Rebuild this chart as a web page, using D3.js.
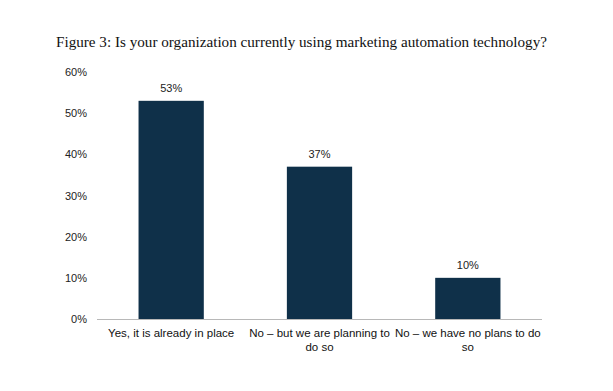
<!DOCTYPE html>
<html><head><meta charset="utf-8">
<script src="https://cdn.jsdelivr.net/npm/d3@7"></script>
<style>body{margin:0;background:#fff}</style>
</head><body>
<svg id="c" width="613" height="391"></svg>
<script>
const title = "Figure 3: Is your organization currently using marketing automation technology?";
const categories = ["Yes, it is already in place", "No – but we are planning to do so", "No – we have no plans to do so"];
const categoryLines = [["Yes, it is already in place"], ["No – but we are planning to", "do so"], ["No – we have no plans to do", "so"]];
const values = [53, 37, 10];
const tickValues = [0, 10, 20, 30, 40, 50, 60];

(function () {
const svg = d3.select("#c");
const mLeft = 97, mRight = 542, mTop = 72, mBottom = 319;
const x = d3.scaleBand().domain(categories).range([mLeft, mRight]).paddingInner(0.56).paddingOuter(0.28);
const y = d3.scaleLinear().domain([0, 60]).range([mBottom, mTop]);

svg.append("text").attr("x", 56).attr("y", 47)
  .attr("font-family", "Liberation Serif, serif").attr("font-size", 15.5).attr("fill", "#111")
  .attr("textLength", 491).attr("lengthAdjust", "spacingAndGlyphs")
  .text(title);

const yAxis = svg.append("g").attr("transform", `translate(${mLeft},0)`)
  .call(d3.axisLeft(y).tickValues(tickValues).tickFormat(d => d + "%").tickSize(0).tickPadding(10));
yAxis.select(".domain").remove();
yAxis.selectAll("text").attr("font-family", "Liberation Sans, Arial, sans-serif").attr("font-size", 11).attr("fill", "#222");

svg.selectAll("rect.bar").data(values).join("rect").attr("class", "bar")
  .attr("x", (d, i) => x(categories[i])).attr("width", x.bandwidth())
  .attr("y", d => y(d)).attr("height", d => mBottom - y(d)).attr("fill", "#0f3049");

svg.selectAll("text.val").data(values).join("text").attr("class", "val")
  .attr("x", (d, i) => x(categories[i]) + x.bandwidth() / 2).attr("y", d => y(d) - 9)
  .attr("text-anchor", "middle").attr("font-family", "Liberation Sans, Arial, sans-serif")
  .attr("font-size", 11).attr("fill", "#222").text(d => d + "%");

svg.append("line").attr("x1", mLeft).attr("x2", mRight).attr("y1", mBottom + 0.5).attr("y2", mBottom + 0.5)
  .attr("stroke", "#b8b8b8").attr("stroke-width", 1);

categories.forEach((c, i) => {
  const t = svg.append("text").attr("text-anchor", "middle")
    .attr("font-family", "Liberation Sans, Arial, sans-serif").attr("font-size", 11.5).attr("fill", "#111");
  categoryLines[i].forEach((ln, j) => {
    t.append("tspan").attr("x", x(c) + x.bandwidth() / 2).attr("y", 337 + j * 14).text(ln);
  });
});
})();
</script>
</body></html>
